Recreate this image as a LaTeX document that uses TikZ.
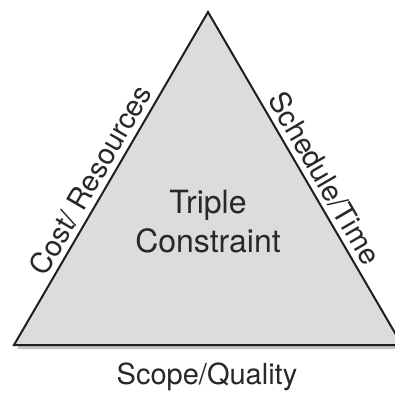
\documentclass[tikz,border=0pt]{standalone}
\usepackage{fontspec}
\setmainfont{TeX Gyre Heros}
\usetikzlibrary{shadows}
\definecolor{trifill}{RGB}{220,220,220}
\definecolor{triline}{RGB}{30,30,30}
\definecolor{labeltext}{RGB}{40,40,40}
\tikzset{
    sidelabel/.style={font=\fontsize{29}{34}\selectfont, text=labeltext, sloped, inner sep=0pt},
    centerlabel/.style={font=\fontsize{32}{39}\selectfont, text=labeltext, align=center},
}
\begin{document}
\begin{tikzpicture}[x=1pt, y=1pt]
        \useasboundingbox (0, 0) rectangle (395, 392);
        % corners of the triangle
        \coordinate (top) at (208, 380);
        \coordinate (left) at (14, 47);
        \coordinate (right) at (402, 47);
        \fill[trifill, drop shadow={shadow xshift=3pt, shadow yshift=-4pt, fill=black!40, opacity=0.6}] (left) -- (top) -- (right) -- cycle;
        \draw[triline, line width=2pt, line join=miter] (left) -- (top) -- (right) -- cycle;
        % side labels
        \path (left) -- node[sidelabel, above=6pt, pos=0.47] (cost) {Cost/ Resources} (top);
        \path (top) -- node[sidelabel, above=6pt, pos=0.525] (sched) {Schedule/Time} (right);
        \node[sidelabel, sloped=false] (scope) at (207, 15) {Scope/Quality};
        \node[centerlabel] (triple) at (208, 170) {Triple\\Constraint};
    \end{tikzpicture}
\end{document}
